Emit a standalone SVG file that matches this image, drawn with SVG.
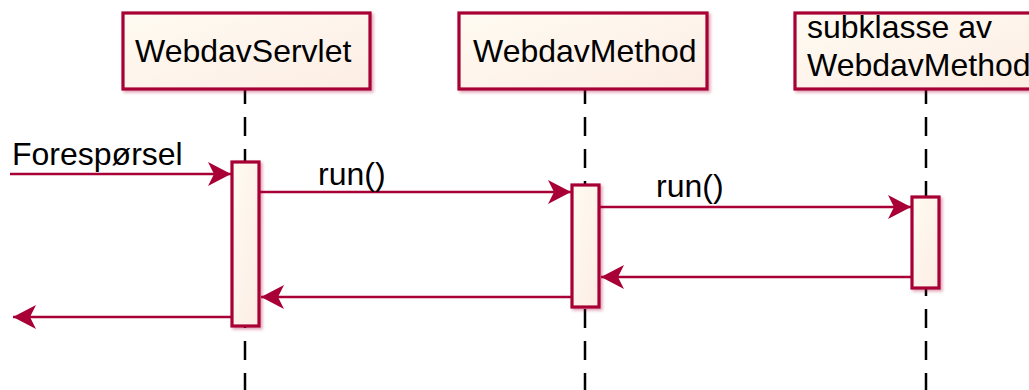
<svg xmlns="http://www.w3.org/2000/svg" width="1029" height="390" viewBox="0 0 1029 390">
  <defs>
    <linearGradient id="fillGrad" x1="0" y1="0" x2="1" y2="1">
      <stop offset="0" stop-color="#FFFBF2"/>
      <stop offset="1" stop-color="#FCEDE4"/>
    </linearGradient>
    <filter id="shadow" x="-10%" y="-10%" width="130%" height="130%">
      <feGaussianBlur in="SourceAlpha" stdDeviation="1.5"/>
      <feOffset dx="1.5" dy="1.5" result="b"/>
      <feFlood flood-color="#A80036" flood-opacity="0.35"/>
      <feComposite in2="b" operator="in"/>
      <feMerge><feMergeNode/><feMergeNode in="SourceGraphic"/></feMerge>
    </filter>
    <marker id="arrow" viewBox="0 0 24 26" refX="23" refY="13" markerWidth="24" markerHeight="26" markerUnits="userSpaceOnUse" orient="auto">
      <polygon points="0,1 23,13 0,25 6,13" fill="#A80036"/>
    </marker>
  </defs>
  <style>
    .box { fill: url(#fillGrad); stroke: #A80036; stroke-width: 3.2; filter: url(#shadow); }
    .act { fill: url(#fillGrad); stroke: #A80036; stroke-width: 3.2; filter: url(#shadow); }
    .life { stroke: #000; stroke-width: 2.5; stroke-dasharray: 19 13; fill: none; }
    .msg { stroke: #A80036; stroke-width: 2.5; fill: none; marker-end: url(#arrow); }
    .label { font-family: "Liberation Sans", Arial, sans-serif; font-size: 32px; fill: #000; }
  </style>

  <!-- lifelines -->
  <g id="lifelines">
    <line class="life" x1="245" y1="85" x2="245" y2="390"/>
    <line class="life" x1="585" y1="85" x2="585" y2="390"/>
    <line class="life" x1="926" y1="85" x2="926" y2="390"/>
  </g>

  <!-- participants -->
  <g id="webdavServlet">
    <rect class="box" x="123" y="13" width="247" height="76"/>
    <text class="label" x="135" y="62">WebdavServlet</text>
  </g>
  <g id="webdavMethod">
    <rect class="box" x="459" y="13" width="248" height="76"/>
    <text class="label" x="473" y="62">WebdavMethod</text>
  </g>
  <g id="subklasse">
    <rect class="box" x="795" y="13" width="250" height="76"/>
    <text class="label" x="807" y="38">subklasse av</text>
    <text class="label" x="807" y="76">WebdavMethod</text>
  </g>

  <!-- activations -->
  <g id="act-servlet">
    <rect class="act" x="232" y="162" width="27" height="164"/>
  </g>
  <g id="act-method">
    <rect class="act" x="572" y="185" width="27" height="122"/>
  </g>
  <g id="act-subklasse">
    <rect class="act" x="912" y="197" width="27" height="91"/>
  </g>

  <!-- messages -->
  <g id="connectors">
    <line class="msg" x1="10" y1="174" x2="231" y2="174"/>
    <text class="label" x="12" y="165">Forespørsel</text>

    <line class="msg" x1="259" y1="192" x2="571" y2="192"/>
    <text class="label" x="318" y="185">run()</text>

    <line class="msg" x1="599" y1="207" x2="911" y2="207"/>
    <text class="label" x="656" y="197">run()</text>

    <line class="msg" x1="912" y1="277" x2="601" y2="277"/>
    <line class="msg" x1="572" y1="297" x2="261" y2="297"/>
    <line class="msg" x1="232" y1="317" x2="13" y2="317"/>
  </g>
</svg>
